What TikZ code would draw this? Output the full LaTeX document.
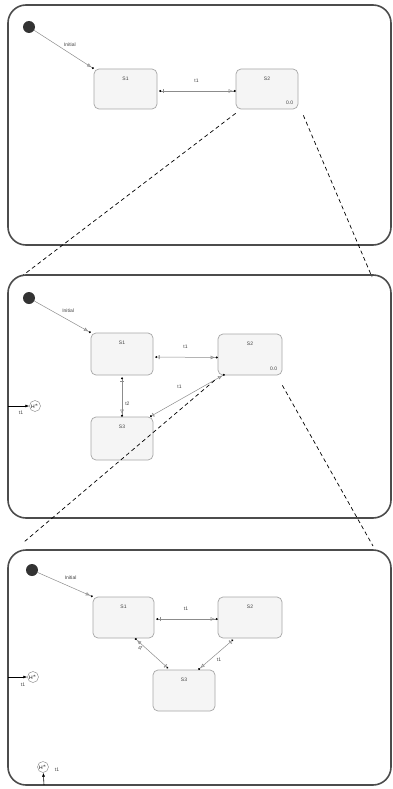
\documentclass[tikz,border=0pt]{standalone}
\usepackage{fontspec}
\setmainfont{Liberation Sans}
\usetikzlibrary{arrows.meta,calc}
\tikzset{
  outer/.style={draw=black!70, line width=1.6pt, rounded corners=18pt},
  state/.style={draw=black!35, fill=black!4, rounded corners=5pt, line width=0.7pt, inner sep=0pt},
  lbl/.style={font=\fontsize{5}{6}\selectfont, text=black!75, inner sep=1pt},
  tr/.style={draw=black!45, line width=0.5pt,
    {Circle[length=2pt,sep=2pt,color=black] Bar[width=4pt,sep=1.2pt] Bar[width=4pt]}-{Triangle[open,length=4pt,width=3.5pt,sep=1pt] Circle[length=2pt,color=black]}},
  init/.style={draw=black!45, line width=0.5pt,
    -{Triangle[open,length=4pt,width=3.5pt,sep=1pt] Circle[length=2pt,color=black]}},
  inidot/.style={circle, fill=black!80, minimum size=12pt, inner sep=0pt},
  junc/.style={circle, draw=black!50, minimum size=11pt, inner sep=0pt, font=\fontsize{5}{6}\selectfont},
  jarr/.style={draw=black, line width=0.6pt, -{Latex[length=4pt,width=3pt]}},
  zoomline/.style={line width=0.7pt, dash pattern=on 4pt off 3pt},
  slbl/.style={label={[lbl,yshift=-13pt]north:#1}}
}
\begin{document}
\begin{tikzpicture}[x=1pt,y=-1pt]
\useasboundingbox (0,0) rectangle (393,789);

% ---------- Panel 1 ----------
\draw[outer] (8,5) rectangle (391,245);
\node[inidot] (a0) at (29,27) {};
\node[state, minimum width=63pt, minimum height=40pt, slbl=S1] (a1) at (125.5,89) {};
\node[state, minimum width=62pt, minimum height=40pt, slbl=S2] (a2) at (267,89) {};
\node[lbl, anchor=south east] (a2v) at ($(a2.south east)+(-4,-4)$) {0.0};
\draw[init] (a0) -- (a1.north west) node[lbl, pos=0.6, above=6pt] (a0l) {Initial};
\draw[tr] ($(a1.east)+(0,2)$) -- ($(a2.west)+(0,2)$) node[lbl, midway, above=7pt] (a12l) {t1};
\coordinate (d1) at (22,276);
\coordinate (d2) at (372,277);
\draw[zoomline] ($(a2.south west)+(0,4)$) -- (d1);
\draw[zoomline] ($(a2.south east)+(5,6)$) -- (d2);

% ---------- Panel 2 ----------
\draw[outer] (8,275) rectangle (391,518);
\node[inidot] (b0) at (29,298) {};
\node[state, minimum width=62pt, minimum height=42pt, slbl=S1] (b1) at (122,354) {};
\node[state, minimum width=64pt, minimum height=41pt, slbl=S2] (b2) at (250,354.5) {};
\node[state, minimum width=62pt, minimum height=43pt, slbl=S3] (b3) at (122,438.5) {};
\node[lbl, anchor=south east] (b2v) at ($(b2.south east)+(-4,-4)$) {0.0};
\draw[init] (b0) -- (b1.north west) node[lbl, pos=0.6, above=6pt] (b0l) {Initial};
\draw[tr] ($(b1.east)+(0,3)$) -- ($(b2.west)+(0,3)$) node[lbl, midway, above=7pt] (b12l) {t1};
\draw[tr] (b1.south) -- (b3.north) node[lbl, pos=0.68, right=2pt] (b13l) {t2};
\draw[tr] ($(b3.north east)+(-5,1)$) -- ($(b2.south west)+(7,-1)$) node[lbl, midway, above=6pt, xshift=-7pt] (b32l) {t1};
\node[junc] (b4) at (35,406) {H$^*$};
\coordinate (b4in) at (8,406);
\draw[jarr] (b4in) -- (b4);
\node[lbl] (b4l) at (21,413) {t1};
\coordinate (d3) at (24,542);
\coordinate (d4) at (373,546);
\draw[zoomline] ($(b2.south west)+(-3,5)$) -- (d3);
\draw[zoomline] ($(b2.south east)+(0,10)$) -- (d4);

% ---------- Panel 3 ----------
\draw[outer] (8,550) rectangle (391,785);
\node[inidot] (c0) at (32,570) {};
\node[state, minimum width=61pt, minimum height=41pt, slbl=S1] (c1) at (123.5,617.5) {};
\node[state, minimum width=64pt, minimum height=41pt, slbl=S2] (c2) at (250,617.5) {};
\node[state, minimum width=62pt, minimum height=41pt, slbl=S3] (c3) at (184,690.5) {};
\draw[init] (c0) -- (c1.north west) node[lbl, pos=0.6, above=6pt] (c0l) {Initial};
\draw[tr] ($(c1.east)+(0,1.5)$) -- ($(c2.west)+(0,1.5)$) node[lbl, midway, above=7pt] (c12l) {t1};
\draw[tr] ($(c3.north west)+(17,0)$) -- ($(c1.south)+(11.5,0)$) node[lbl, pos=0.77, sloped, below=0.5pt] (c31l) {t1};
\draw[tr] ($(c2.south west)+(17,0)$) -- ($(c3.north east)+(-17,0)$) node[lbl, pos=0.55, below right=1pt] (c23l) {t1};
\node[junc] (c4) at (33,677) {H$^*$};
\coordinate (c4in) at (8,677);
\draw[jarr] (c4in) -- (c4);
\node[lbl] (c4l) at (23,685) {t1};
\node[junc] (c5) at (43,767) {H$^*$};
\coordinate (c5in) at (44,785);
\draw[jarr] (c5in) -- (c5);
\node[lbl] (c5l) at (57,770) {t1};
\end{tikzpicture}
\end{document}
